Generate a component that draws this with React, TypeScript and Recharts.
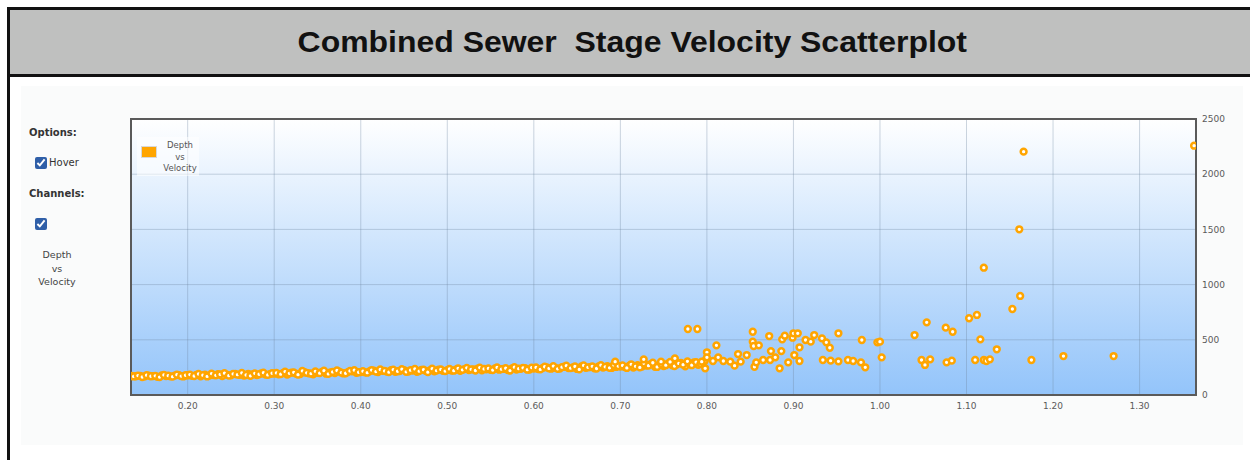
import { ScatterChart, Scatter, XAxis, YAxis, CartesianGrid, ReferenceArea } from "recharts";

// dense band, first row
const bandDepthA = [
    0.135, 0.14, 0.145, 0.15, 0.155, 0.16, 0.165, 0.17, 0.175, 0.18, 0.185, 0.19, 0.195, 0.2,
    0.205, 0.21, 0.215, 0.22, 0.225, 0.23, 0.235, 0.24, 0.245, 0.25, 0.255, 0.26, 0.265, 0.27, 0.275, 0.28, 0.285, 0.29, 0.295, 0.3,
    0.305, 0.31, 0.315, 0.32, 0.325, 0.33, 0.335, 0.34, 0.345, 0.35, 0.355, 0.36, 0.365, 0.37, 0.375, 0.38, 0.385, 0.39, 0.395, 0.4,
    0.405, 0.41, 0.415, 0.42, 0.425, 0.43, 0.435, 0.44, 0.445, 0.45, 0.455, 0.46, 0.465, 0.47, 0.475, 0.48, 0.485, 0.49, 0.495, 0.5,
    0.505, 0.51, 0.515, 0.52, 0.525, 0.53, 0.535, 0.54, 0.545, 0.55, 0.555, 0.56, 0.565, 0.57, 0.575, 0.58, 0.585, 0.59, 0.595, 0.6,
    0.605, 0.61, 0.615, 0.62, 0.625, 0.63, 0.635, 0.64, 0.645, 0.65, 0.655, 0.66, 0.665, 0.67, 0.675, 0.68, 0.685, 0.69, 0.695, 0.7,
    0.705, 0.71, 0.715, 0.72, 0.725, 0.73, 0.735, 0.74, 0.745, 0.75, 0.755, 0.76, 0.765, 0.77, 0.775, 0.78, 0.785, 0.79, 0.795,
];
const bandVelocityA = [
    172, 170, 174, 168, 176, 171, 165, 178, 172, 169, 175, 180, 168, 177,
    174, 182, 170, 185, 176, 181, 188, 172, 184, 179, 190, 183, 176, 192, 186, 180, 195, 184, 189, 193,
    188, 198, 185, 202, 194, 190, 206, 196, 187, 200, 210, 193, 204, 199, 212, 195, 207, 215, 201, 208,
    205, 214, 220, 208, 218, 212, 224, 210, 216, 226, 213, 221, 209, 228, 218, 223, 214, 230, 219, 225,
    222, 230, 218, 235, 226, 232, 238, 224, 233, 228, 240, 229, 236, 225, 242, 231, 237, 244, 230, 239,
    234, 244, 250, 238, 246, 240, 256, 243, 249, 236, 258, 247, 252, 241, 260, 248, 262, 245, 254, 258,
    252, 264, 248, 270, 258, 266, 280, 255, 272, 262, 285, 268, 276, 290, 260, 282, 295, 274, 288,
];

// dense band, second row
const bandDepthB = [
    0.1375, 0.1425, 0.1475, 0.1525, 0.1575, 0.1625, 0.1675, 0.1725, 0.1775, 0.1825, 0.1875, 0.1925, 0.1975,
    0.2025, 0.2075, 0.2125, 0.2175, 0.2225, 0.2275, 0.2325, 0.2375, 0.2425, 0.2475, 0.2525, 0.2575, 0.2625, 0.2675, 0.2725, 0.2775, 0.2825, 0.2875, 0.2925, 0.2975,
    0.3025, 0.3075, 0.3125, 0.3175, 0.3225, 0.3275, 0.3325, 0.3375, 0.3425, 0.3475, 0.3525, 0.3575, 0.3625, 0.3675, 0.3725, 0.3775, 0.3825, 0.3875, 0.3925, 0.3975,
    0.4025, 0.4075, 0.4125, 0.4175, 0.4225, 0.4275, 0.4325, 0.4375, 0.4425, 0.4475, 0.4525, 0.4575, 0.4625, 0.4675, 0.4725, 0.4775, 0.4825, 0.4875, 0.4925, 0.4975,
    0.5025, 0.5075, 0.5125, 0.5175, 0.5225, 0.5275, 0.5325, 0.5375, 0.5425, 0.5475, 0.5525, 0.5575, 0.5625, 0.5675, 0.5725, 0.5775, 0.5825, 0.5875, 0.5925, 0.5975,
    0.6025, 0.6075, 0.6125, 0.6175, 0.6225, 0.6275, 0.6325, 0.6375, 0.6425, 0.6475, 0.6525, 0.6575, 0.6625, 0.6675, 0.6725, 0.6775, 0.6825, 0.6875, 0.6925, 0.6975,
    0.7025, 0.7075, 0.7125, 0.7175, 0.7225, 0.7275, 0.7325, 0.7375, 0.7425, 0.7475, 0.7525, 0.7575, 0.7625, 0.7675, 0.7725, 0.7775, 0.7825, 0.7875, 0.7925, 0.7975,
];
const bandVelocityB = [
    168, 176, 163, 180, 170, 174, 162, 182, 175, 166, 184, 171, 179,
    185, 172, 190, 180, 168, 194, 178, 186, 198, 175, 191, 184, 200, 181, 174, 196, 188, 202, 182, 197,
    200, 189, 212, 196, 205, 184, 218, 201, 194, 214, 198, 220, 191, 209, 222, 203, 197, 218, 225, 206,
    216, 202, 226, 212, 231, 218, 207, 229, 215, 234, 210, 225, 236, 216, 229, 207, 238, 221, 232, 217,
    236, 220, 242, 228, 246, 233, 222, 248, 236, 241, 226, 250, 234, 243, 221, 252, 238, 246, 229, 248,
    250, 232, 256, 241, 262, 237, 252, 266, 244, 258, 232, 268, 251, 260, 240, 270, 255, 246, 272, 262,
    268, 245, 278, 260, 250, 286, 266, 292, 254, 279, 270, 300, 262, 286, 275, 305, 270, 298, 282, 310,
];

// scattered points above the band
const sparseDepth = [
    0.694, 0.727, 0.747, 0.763, 0.778, 0.789, 0.794, 0.798, 0.8, 0.8, 0.807, 0.811, 0.813, 0.819, 0.827,
    0.832, 0.836, 0.839, 0.846, 0.853, 0.853, 0.854, 0.855, 0.857, 0.86, 0.865, 0.872, 0.873, 0.874, 0.879,
    0.884, 0.886, 0.887, 0.89, 0.894, 0.899, 0.9, 0.901, 0.905, 0.907, 0.907, 0.914, 0.92, 0.924, 0.933,
    0.934, 0.938, 0.942, 0.943, 0.952, 0.952, 0.963, 0.969, 0.978, 0.979, 0.983, 0.997, 1.0, 1.002, 1.04,
    1.048, 1.052, 1.054, 1.058, 1.076, 1.077, 1.083, 1.084, 1.103, 1.11, 1.112, 1.116, 1.12, 1.12, 1.123,
    1.127, 1.135, 1.153, 1.161, 1.162, 1.166, 1.175, 1.212, 1.27, 1.363,
];
const sparseVelocity = [
    302, 323, 302, 332, 598, 598, 302, 242, 387, 341, 308, 450, 341, 308, 302,
    266, 371, 302, 362, 573, 483, 444, 256, 296, 450, 317, 534, 317, 398, 341,
    242, 398, 504, 537, 296, 519, 559, 362, 559, 432, 308, 498, 483, 543, 513,
    317, 477, 428, 311, 559, 305, 317, 308, 296, 498, 251, 477, 483, 341, 543,
    317, 272, 658, 323, 610, 296, 311, 573, 695, 317, 725, 504, 317, 1153, 308,
    323, 414, 779, 1501, 897, 2204, 317, 353, 353, 2258,
];

const xTicks = [0.2, 0.3, 0.4, 0.5, 0.6, 0.7, 0.8, 0.9, 1.0, 1.1, 1.2, 1.3];
const yTicks = [0, 500, 1000, 1500, 2000, 2500];
const xDomain = [0.1345, 1.3652];

const points = [
    ...bandDepthA.map((d, i) => ({ depth: d, velocity: bandVelocityA[i] })),
    ...bandDepthB.map((d, i) => ({ depth: d, velocity: bandVelocityB[i] })),
    ...sparseDepth.map((d, i) => ({ depth: d, velocity: sparseVelocity[i] })),
];

const tickStyle = { fontSize: 9, fill: "#5a5a5a", fontFamily: "DejaVu Sans" };

function Dot(props: any) {
    return <circle cx={props.cx} cy={props.cy} r={2.9} fill="#fff" stroke="#ffa500" strokeWidth={2.5} />;
}

export default function App() {
    return (
        <div style={{ position: "absolute", left: 0, top: 0, width: 1250, height: 460, background: "#fff", overflow: "hidden", fontFamily: "DejaVu Sans" }}>
            {/* header */}
            <div style={{
                position: "absolute", left: 7, top: 7, width: 1244, height: 64, background: "#bfc0bf",
                border: "3px solid #111", display: "flex", alignItems: "center", justifyContent: "center",
            }}>
                <span style={{ fontFamily: "Liberation Sans", fontWeight: "bold", fontSize: 30, color: "#111", display: "inline-block", transform: "scaleX(1.065)" }}>
                    Combined Sewer&nbsp; Stage Velocity Scatterplot
                </span>
            </div>
            <div style={{ position: "absolute", left: 7, top: 76, width: 3, height: 400, background: "#111" }} />
            <div style={{ position: "absolute", left: 21, top: 86, width: 1222, height: 359, background: "#fafbfb" }} />

            {/* side options */}
            <div style={{ position: "absolute", left: 29, top: 127, fontSize: 10, lineHeight: "12px", fontWeight: "bold", color: "#333" }}>Options:</div>
            <input type="checkbox" checked readOnly style={{ position: "absolute", left: 35, top: 157, width: 12, height: 12, margin: 0, accentColor: "#2f5fa8" }} />
            <div style={{ position: "absolute", left: 49, top: 157, fontSize: 10, lineHeight: "12px", color: "#333" }}>Hover</div>
            <div style={{ position: "absolute", left: 29, top: 188, fontSize: 10, lineHeight: "12px", fontWeight: "bold", color: "#333" }}>Channels:</div>
            <input type="checkbox" checked readOnly style={{ position: "absolute", left: 35, top: 218, width: 12, height: 12, margin: 0, accentColor: "#2f5fa8" }} />
            <div style={{ position: "absolute", left: 17, top: 248, width: 80, textAlign: "center", fontSize: 9.5, lineHeight: "13.5px", color: "#444" }}>
                Depth<br />vs<br />Velocity
            </div>

            <div style={{ position: "absolute", left: 100, top: 100 }}>
                <ScatterChart width={1150} height={340} margin={{ top: 19, left: 31, right: 0, bottom: 15 }}>
                    <defs>
                        <linearGradient id="plotBg" x1="0" y1="0" x2="0" y2="1">
                            <stop offset="0%" stopColor="#ffffff" />
                            <stop offset="100%" stopColor="#93c4fa" />
                        </linearGradient>
                    </defs>
                    <CartesianGrid fill="url(#plotBg)" fillOpacity={1} stroke="#6f86a0" strokeOpacity={0.35} />
                    <XAxis type="number" dataKey="depth" domain={xDomain} ticks={xTicks} allowDataOverflow
                        tickFormatter={(v: number) => v.toFixed(2)} tick={tickStyle} tickLine={false} axisLine={false}
                        tickSize={6} tickMargin={2} height={30} />
                    <YAxis type="number" dataKey="velocity" orientation="right" domain={[0, 2500]} ticks={yTicks}
                        tick={tickStyle} tickLine={false} axisLine={false} tickSize={4} tickMargin={2} width={54} />
                    <ReferenceArea x1={xDomain[0]} x2={xDomain[1]} y1={0} y2={2500} fill="none" stroke="#5a5a5a" strokeWidth={2} ifOverflow="visible" />
                    <Scatter data={points} shape={Dot} isAnimationActive={false} />
                </ScatterChart>
            </div>

            {/* in-plot legend */}
            <div style={{ position: "absolute", left: 137, top: 137, width: 62, height: 39, background: "rgba(255,255,255,0.55)" }} />
            <div style={{ position: "absolute", left: 141, top: 146, width: 14, height: 10, background: "#ffa500", border: "1px solid #d8d8d8" }} />
            <div style={{ position: "absolute", left: 158, top: 140, width: 44, textAlign: "center", fontSize: 8.5, lineHeight: "11.7px", color: "#555" }}>
                Depth<br />vs<br />Velocity
            </div>
        </div>
    );
}
